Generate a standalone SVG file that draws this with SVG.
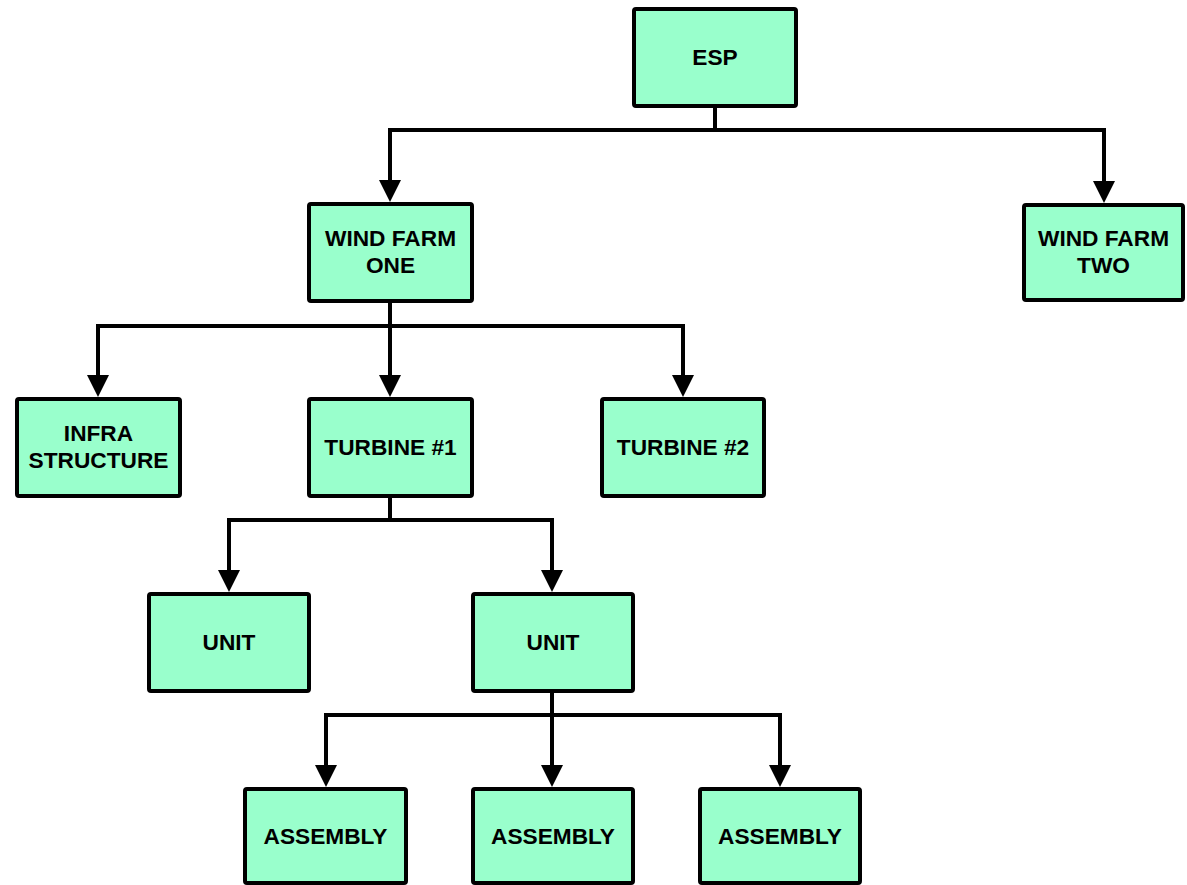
<svg xmlns="http://www.w3.org/2000/svg" width="1187" height="885" viewBox="0 0 1187 885">
<style>
.box{fill:#99FFCC;stroke:#000;stroke-width:4;}
.t{font-family:"Liberation Sans",Arial,sans-serif;font-weight:bold;font-size:22.7px;text-anchor:middle;fill:#000;}
.c{fill:none;stroke:#000;stroke-width:4;marker-end:url(#ah);}
</style>
<defs>
<marker id="ah" markerUnits="userSpaceOnUse" markerWidth="22" markerHeight="22" refX="12" refY="11" orient="auto" viewBox="0 0 22 22">
<path d="M0,0 L22,11 L0,22 z" fill="#000"/>
</marker>
</defs>
<rect width="1187" height="885" fill="#fff"/>
<g id="connectors">
<path class="c" d="M715,108 V130 H390 V192"/>
<path class="c" d="M715,108 V130 H1104 V193"/>
<path class="c" d="M390,303 V326 H98 V387"/>
<path class="c" d="M390,303 V387"/>
<path class="c" d="M390,303 V326 H683 V387"/>
<path class="c" d="M390,498 V520 H229 V582"/>
<path class="c" d="M390,498 V520 H552 V582"/>
<path class="c" d="M552,693 V715 H326 V777"/>
<path class="c" d="M552,693 V777"/>
<path class="c" d="M552,693 V715 H780 V777"/>
</g>
<g id="esp"><rect class="box" x="634" y="9" width="162" height="97" rx="2"/><text class="t" x="715" y="65">ESP</text></g>
<g id="wf1"><rect class="box" x="309" y="204" width="163" height="97" rx="2"/><text class="t" x="390.5" y="246">WIND FARM</text><text class="t" x="390.5" y="273">ONE</text></g>
<g id="wf2"><rect class="box" x="1024" y="205" width="159" height="95" rx="2"/><text class="t" x="1103.5" y="246">WIND FARM</text><text class="t" x="1103.5" y="273">TWO</text></g>
<g id="infra"><rect class="box" x="17" y="399" width="163" height="97" rx="2"/><text class="t" x="98.5" y="441">INFRA</text><text class="t" x="98.5" y="468">STRUCTURE</text></g>
<g id="turbine1"><rect class="box" x="309" y="399" width="163" height="97" rx="2"/><text class="t" x="390.5" y="455">TURBINE #1</text></g>
<g id="turbine2"><rect class="box" x="602" y="399" width="162" height="97" rx="2"/><text class="t" x="683" y="455">TURBINE #2</text></g>
<g id="unit1"><rect class="box" x="149" y="594" width="160" height="97" rx="2"/><text class="t" x="229" y="650">UNIT</text></g>
<g id="unit2"><rect class="box" x="473" y="594" width="160" height="97" rx="2"/><text class="t" x="553" y="650">UNIT</text></g>
<g id="asm1"><rect class="box" x="245" y="789" width="161" height="94" rx="2"/><text class="t" x="325.5" y="844">ASSEMBLY</text></g>
<g id="asm2"><rect class="box" x="473" y="789" width="160" height="94" rx="2"/><text class="t" x="553" y="844">ASSEMBLY</text></g>
<g id="asm3"><rect class="box" x="700" y="789" width="160" height="94" rx="2"/><text class="t" x="780" y="844">ASSEMBLY</text></g>
</svg>
